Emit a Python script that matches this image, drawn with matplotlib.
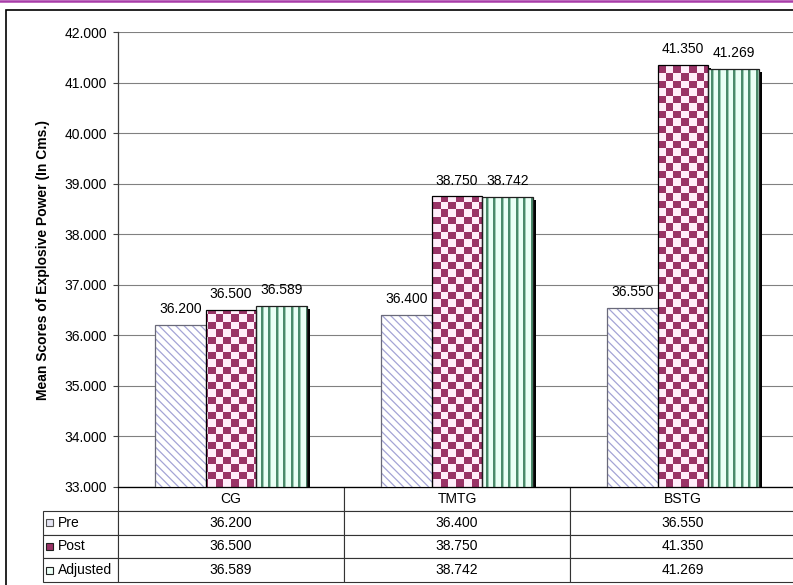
import numpy as np
import matplotlib
matplotlib.use("Agg")
import matplotlib.pyplot as plt
from matplotlib.patches import Rectangle
from matplotlib.lines import Line2D
from matplotlib.image import AxesImage
from matplotlib import transforms

plt.rcParams['font.family'] = ['Liberation Sans', 'DejaVu Sans']
plt.rcParams['hatch.linewidth'] = 0.9

# ---------------- data ----------------
categories = ['CG', 'TMTG', 'BSTG']
series_names = ['Pre', 'Post', 'Adjusted']
pre = [36.200, 36.400, 36.550]
post = [36.500, 38.750, 41.350]
adjusted = [36.589, 38.742, 41.269]
y_ticks = [33, 34, 35, 36, 37, 38, 39, 40, 41, 42]
y_label = 'Mean Scores of Explosive Power (In Cms.)'

W_PX, H_PX = 793, 585
fig = plt.figure(figsize=(W_PX / 100, H_PX / 100), dpi=100)

ax_l, ax_r, ax_t, ax_b = 118, 796, 32, 487
ax = fig.add_axes([ax_l / W_PX, (H_PX - ax_b) / H_PX,
                   (ax_r - ax_l) / W_PX, (ax_b - ax_t) / H_PX])
ax_w_px, ax_h_px = ax_r - ax_l, ax_b - ax_t

x = np.arange(len(categories))
bw = 0.224
offsets = [-bw, 0.0, bw]
all_series = [pre, post, adjusted]

ax.set_xlim(-0.5, len(categories) - 0.5)
ax.set_ylim(y_ticks[0], y_ticks[-1])

# shadows
shadow_tr = transforms.offset_copy(ax.transData, fig=fig, x=2.2, y=-2.2, units='points')
for off, vals in zip(offsets, all_series):
    ax.bar(x + off, np.array(vals) - y_ticks[0], bottom=y_ticks[0], width=bw,
           color='black', linewidth=0, transform=shadow_tr, zorder=2)

# textures
yy, xx = np.mgrid[0:ax_h_px, 0:ax_w_px]
cell = 7.5
chk = ((xx // cell).astype(int) + (yy // cell).astype(int)) % 2
maroon = np.array([0x99, 0x33, 0x66]) / 255
pinkish = np.array([0xff, 0xee, 0xfa]) / 255
checker_img = np.where(chk[..., None] == 1, maroon, pinkish)

period = 7.5
m = np.mod(xx, period)
dark_g = np.array([0x4a, 0x8a, 0x6a]) / 255
mid_g = np.array([0x9c, 0xcc, 0xb4]) / 255
light_g = np.array([0xea, 0xff, 0xf5]) / 255
stripe_img = np.where((m < 1.6)[..., None], dark_g,
                      np.where((m < 2.6)[..., None], mid_g, light_g))

# Pre bars (diagonal hatch)
ax.bar(x + offsets[0], np.array(pre) - y_ticks[0], bottom=y_ticks[0], width=bw,
       facecolor='white', edgecolor='#a4a4d6', hatch='\\\\\\\\', linewidth=0,
       zorder=3)

# Post and Adjusted base bars used as clip paths
def textured(vals, off, img):
    bars = ax.bar(x + off, np.array(vals) - y_ticks[0], bottom=y_ticks[0], width=bw,
                  facecolor='white', linewidth=0, zorder=3)
    for b in bars:
        im = AxesImage(ax, interpolation='nearest', origin='lower',
                       extent=(0, 1, 0, 1), transform=ax.transAxes)
        im.set_data(img)
        im.set_zorder(3.5)
        ax.add_image(im)
        im.set_clip_path(b)
    return bars

textured(post, offsets[1], checker_img)
textured(adjusted, offsets[2], stripe_img)

# outlines
edge_cols = ['#6a6a7a', 'black', '#202020']
for off, vals, ec in zip(offsets, all_series, edge_cols):
    ax.bar(x + off, np.array(vals) - y_ticks[0], bottom=y_ticks[0], width=bw,
           fill=False, edgecolor=ec, linewidth=0.9, zorder=4)

# value labels
for off, vals in zip(offsets, all_series):
    for xi, v in zip(x, vals):
        ax.annotate(f'{v:.3f}', (xi + off, v), xytext=(0, 6.3),
                    textcoords='offset points', ha='center', va='bottom',
                    fontsize=10, zorder=5)

# axes styling
ax.set_yticks(y_ticks)
ax.set_yticklabels([f'{t:.3f}' for t in y_ticks], fontsize=10)
ax.set_xticks([])
ax.tick_params(axis='y', length=3.6, width=0.8, color='#404040', pad=4.3)
ax.yaxis.grid(True, color='#808080', linewidth=0.8)
ax.set_axisbelow(True)
for s in ['top', 'right']:
    ax.spines[s].set_visible(False)
ax.spines['left'].set_color('#404040')
ax.spines['left'].set_linewidth(0.9)
ax.spines['bottom'].set_color('black')
ax.spines['bottom'].set_linewidth(0.9)

ax.set_ylabel(y_label, fontsize=10, fontweight='bold')
ax.yaxis.set_label_coords((50 - ax_l) / ax_w_px, 0.5)

# data table
lab_l = 43
tbl_bottom = 582
cell_text = [[name] + [f'{v:.3f}' for v in vals]
             for name, vals in zip(series_names, all_series)]
col_labels = [''] + categories
total_w = ax_r - lab_l
col_w = [(ax_l - lab_l) / total_w] + [ax_w_px / 3 / total_w] * 3
tbl = ax.table(cellText=cell_text, colLabels=col_labels, colWidths=col_w,
               cellLoc='center',
               bbox=[(lab_l - ax_l) / ax_w_px, -(tbl_bottom - ax_b) / ax_h_px,
                     total_w / ax_w_px, (tbl_bottom - ax_b) / ax_h_px])
tbl.auto_set_font_size(False)
tbl.set_fontsize(10)
for (r, c), cl in tbl.get_celld().items():
    cl.set_linewidth(0.8)
    cl.set_edgecolor('#333333')
    cl.set_facecolor('white')
    if r == 0 and c == 0:
        cl.visible_edges = 'open'
    if r > 0 and c == 0:
        cl._loc = 'left'
        cl.PAD = 15 / (ax_l - lab_l)
        cl.get_text().set_ha('left')

# legend swatches in row-label cells
row_h = (tbl_bottom - ax_b) / 4
sw_cols = [('#e4e4f2', '#505050'), ('#993366', '#202020'), ('#eafff5', '#202020')]
for i, (fc, ec) in enumerate(sw_cols):
    cy = ax_b + row_h * (i + 1) + row_h / 2
    rect = Rectangle(((46 - ax_l) / ax_w_px, -(cy + 3.5 - ax_b) / ax_h_px),
                     7 / ax_w_px, 7 / ax_h_px, transform=ax.transAxes,
                     facecolor=fc, edgecolor=ec, linewidth=0.8, clip_on=False,
                     zorder=10)
    ax.add_artist(rect)

# outer frame and top magenta line
frame = Rectangle((6 / W_PX, -20 / H_PX), 1.2, (H_PX - 10 + 20) / H_PX,
                  transform=fig.transFigure, fill=False, edgecolor='black',
                  linewidth=1.2)
fig.add_artist(frame)
fig.add_artist(Line2D([0, 1], [1 - 1.2 / H_PX, 1 - 1.2 / H_PX],
                      transform=fig.transFigure, color='#a83ca8', linewidth=1.8))

fig.savefig('out.png', dpi=100)
